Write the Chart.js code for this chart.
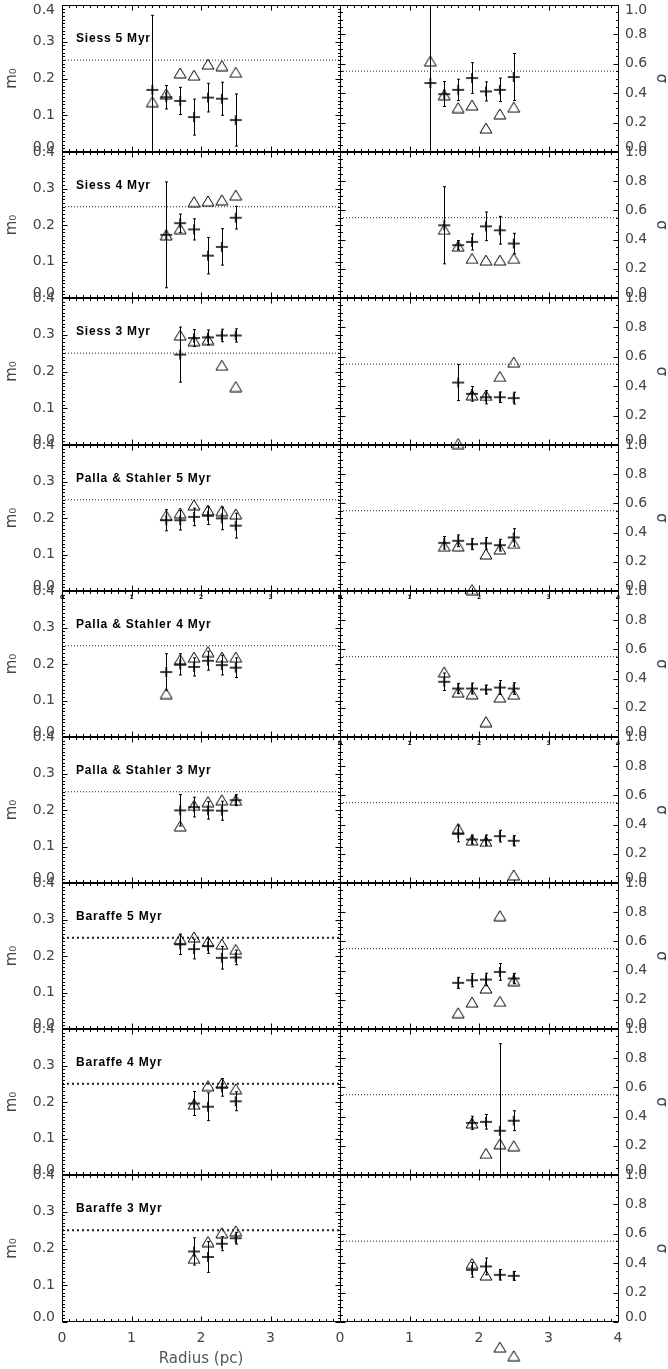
<!DOCTYPE html>
<html lang="en">
<head>
<meta charset="UTF-8">
<title>m0 and sigma versus radius</title>
<script src="https://cdn.jsdelivr.net/npm/chart.js"></script>
<style>
  body { margin: 0; background: #fff; }
  #plots { position: relative; width: 668px; height: 1369px; overflow: hidden; }
  #plots canvas { position: absolute; }
</style>
</head>
<body>
<div id="plots"></div>
<script>
// one row per model grid
const rowTitles = ['Siess 5 Myr', 'Siess 4 Myr', 'Siess 3 Myr',
  'Palla & Stahler 5 Myr', 'Palla & Stahler 4 Myr', 'Palla & Stahler 3 Myr',
  'Baraffe 5 Myr', 'Baraffe 4 Myr', 'Baraffe 3 Myr'];

const radiusTicks = [0, 1, 2, 3, 4];
const m0Ref = 0.25;
const sigmaRef = 0.55;

const radius = [
  [1.3, 1.5, 1.7, 1.9, 2.1, 2.3, 2.5],
  [1.5, 1.7, 1.9, 2.1, 2.3, 2.5],
  [1.7, 1.9, 2.1, 2.3, 2.5],
  [1.5, 1.7, 1.9, 2.1, 2.3, 2.5],
  [1.5, 1.7, 1.9, 2.1, 2.3, 2.5],
  [1.7, 1.9, 2.1, 2.3, 2.5],
  [1.7, 1.9, 2.1, 2.3, 2.5],
  [1.9, 2.1, 2.3, 2.5],
  [1.9, 2.1, 2.3, 2.5]
];

// fitted characteristic mass (crosses) and its error
const m0 = [
  [0.169, 0.149, 0.139, 0.095, 0.148, 0.145, 0.087],
  [0.173, 0.205, 0.188, 0.116, 0.140, 0.220],
  [0.246, 0.291, 0.293, 0.298, 0.298],
  [0.194, 0.194, 0.203, 0.206, 0.199, 0.179],
  [0.178, 0.199, 0.192, 0.209, 0.197, 0.190],
  [0.199, 0.208, 0.199, 0.198, 0.227],
  [0.232, 0.219, 0.227, 0.195, 0.196],
  [0.196, 0.187, 0.240, 0.202],
  [0.192, 0.177, 0.213, 0.228]
];
const m0Err = [
  [0.203, 0.032, 0.037, 0.049, 0.039, 0.045, 0.071],
  [0.145, 0.025, 0.029, 0.050, 0.050, 0.031],
  [0.075, 0.023, 0.020, 0.017, 0.018],
  [0.029, 0.027, 0.024, 0.024, 0.031, 0.034],
  [0.050, 0.029, 0.025, 0.026, 0.027, 0.027],
  [0.043, 0.027, 0.024, 0.026, 0.015],
  [0.028, 0.027, 0.020, 0.031, 0.020],
  [0.033, 0.038, 0.024, 0.026],
  [0.037, 0.042, 0.019, 0.016]
];
// second estimate (triangles)
const m0Tri = [
  [0.137, 0.158, 0.215, 0.209, 0.239, 0.235, 0.217],
  [0.173, 0.190, 0.264, 0.266, 0.269, 0.282],
  [0.299, 0.284, 0.287, 0.217, 0.159],
  [0.207, 0.214, 0.236, 0.222, 0.220, 0.211],
  [0.119, 0.212, 0.219, 0.234, 0.219, 0.219],
  [0.156, 0.213, 0.223, 0.228, 0.227],
  [0.247, 0.252, 0.240, 0.233, 0.218],
  [0.194, 0.245, 0.252, 0.236],
  [0.173, 0.219, 0.243, 0.248]
];

// width sigma (crosses) and its error
const sigma = [
  [0.469, 0.394, 0.423, 0.503, 0.412, 0.423, 0.510],
  [0.498, 0.362, 0.384, 0.491, 0.464, 0.373],
  [0.425, 0.348, 0.325, 0.325, 0.319],
  [0.330, 0.344, 0.321, 0.326, 0.314, 0.367],
  [0.378, 0.332, 0.332, 0.325, 0.339, 0.332],
  [0.339, 0.298, 0.294, 0.321, 0.289],
  [0.316, 0.334, 0.339, 0.391, 0.346],
  [0.357, 0.364, 0.303, 0.372],
  [0.355, 0.378, 0.321, 0.314]
];
const sigmaErr = [
  [0.600, 0.085, 0.072, 0.105, 0.065, 0.080, 0.160],
  [0.264, 0.032, 0.055, 0.098, 0.095, 0.070],
  [0.123, 0.050, 0.045, 0.036, 0.040],
  [0.043, 0.040, 0.038, 0.040, 0.040, 0.060],
  [0.060, 0.035, 0.038, 0.030, 0.048, 0.040],
  [0.057, 0.030, 0.035, 0.040, 0.035],
  [0.038, 0.045, 0.043, 0.057, 0.035],
  [0.045, 0.050, 0.596, 0.068],
  [0.050, 0.057, 0.036, 0.030]
];
const sigmaTriR = [
  [1.3, 1.5, 1.7, 1.9, 2.1, 2.3, 2.5],
  [1.5, 1.7, 1.9, 2.1, 2.3, 2.5],
  [1.7, 1.9, 2.1, 2.3, 2.5],
  [1.5, 1.7, 1.9, 2.1, 2.3, 2.5],
  [1.5, 1.7, 1.9, 2.1, 2.3, 2.5],
  [1.7, 1.9, 2.1, 2.5],
  [1.7, 1.9, 2.1, 2.3, 2.3, 2.5],
  [1.9, 2.1, 2.3, 2.5],
  [1.9, 2.1, 2.3, 2.5]
];
const sigmaTri = [
  [0.619, 0.389, 0.302, 0.319, 0.162, 0.259, 0.305],
  [0.470, 0.355, 0.271, 0.259, 0.259, 0.271],
  [0.010, 0.341, 0.337, 0.466, 0.564],
  [0.307, 0.309, 0.010, 0.253, 0.287, 0.326],
  [0.446, 0.307, 0.296, 0.105, 0.273, 0.293],
  [0.373, 0.294, 0.285, 0.055],
  [0.111, 0.184, 0.280, 0.776, 0.189, 0.332],
  [0.357, 0.148, 0.214, 0.200],
  [0.398, 0.319, -0.171, -0.230]
];

// page layout of the panel grid
const rowTop = [5, 152, 298, 445, 591, 737, 883, 1029, 1175];
const rowBottom = [152, 298, 445, 591, 737, 883, 1029, 1175, 1322];
const PAD = 24;
const SIDE = 20;
const AXIS_H = 47;
const tinyLeft = [4];
const tinyRight = [4, 5];

Chart.defaults.font.family = '"DejaVu Sans", sans-serif';
Chart.defaults.color = '#444';

function glyph(w, h, lw, path) {
  const c = document.createElement('canvas');
  c.width = w;
  c.height = h;
  const g = c.getContext('2d');
  g.strokeStyle = '#000';
  g.lineWidth = lw;
  g.beginPath();
  path(g);
  g.stroke();
  return c;
}
const triangle = glyph(14, 12, 1, g => { g.moveTo(1, 11); g.lineTo(7, 1); g.lineTo(13, 11); g.closePath(); });
const plus = glyph(14, 12, 1.6, g => { g.moveTo(1, 6); g.lineTo(13, 6); g.moveTo(7, 1); g.lineTo(7, 11); });

// vertical error bars with small caps, clipped to the panel
const errorBars = {
  id: 'errorBars',
  afterDatasetsDraw(chart) {
    const {ctx, chartArea: a} = chart;
    const y = chart.scales.y;
    ctx.save();
    ctx.beginPath();
    ctx.rect(a.left, a.top, a.right - a.left, a.bottom - a.top);
    ctx.clip();
    ctx.strokeStyle = '#000';
    ctx.lineWidth = 1;
    chart.data.datasets.forEach((ds, i) => {
      if (!ds.errors) return;
      chart.getDatasetMeta(i).data.forEach((pt, j) => {
        const v = ds.data[j].y, e = ds.errors[j];
        const x = Math.round(pt.x) + 0.5;
        const y1 = y.getPixelForValue(v + e);
        const y2 = y.getPixelForValue(v - e);
        ctx.beginPath();
        ctx.moveTo(x, y1); ctx.lineTo(x, y2);
        ctx.moveTo(x - 1.5, y1); ctx.lineTo(x + 1.5, y1);
        ctx.moveTo(x - 1.5, y2); ctx.lineTo(x + 1.5, y2);
        ctx.stroke();
      });
    });
    ctx.restore();
  }
};

// box with inward ticks on all four sides, panel label
const frame = {
  id: 'frame',
  afterDraw(chart) {
    const {ctx, chartArea: a, scales: {x, y}} = chart;
    const o = chart.options.plugins.frame;
    const L = Math.round(a.left) + 0.5, R = Math.round(a.right) + 0.5;
    const T = Math.round(a.top) + 0.5, B = Math.round(a.bottom) - 0.5;
    ctx.save();
    ctx.strokeStyle = '#000';
    ctx.lineWidth = 1;
    ctx.beginPath();
    ctx.moveTo(L, T); ctx.lineTo(R, T);
    ctx.moveTo(L, B); ctx.lineTo(R, B);
    ctx.moveTo(L, T); ctx.lineTo(L, B);
    ctx.moveTo(R, T); ctx.lineTo(R, B);
    const nx = Math.round((x.max - x.min) / 0.1);
    for (let i = 0; i <= nx; i++) {
      const px = Math.round(x.getPixelForValue(x.min + i * 0.1)) + 0.5;
      const len = i % 10 === 0 ? 5 : 2.5;
      ctx.moveTo(px, B); ctx.lineTo(px, B - len);
      ctx.moveTo(px, T); ctx.lineTo(px, T + len);
    }
    const ny = Math.round((y.max - y.min) / o.minor);
    for (let i = 0; i <= ny; i++) {
      const py = Math.round(y.getPixelForValue(y.min + i * o.minor)) + 0.5;
      const len = i % o.every === 0 ? 5 : 2.5;
      ctx.moveTo(L, py); ctx.lineTo(L + len, py);
      ctx.moveTo(R, py); ctx.lineTo(R - len, py);
    }
    ctx.stroke();

    ctx.fillStyle = '#000';
    if (o.label) {
      ctx.font = 'bold 12px "Liberation Sans", sans-serif';
      ctx.letterSpacing = '0.8px';
      ctx.textBaseline = 'middle';
      ctx.textAlign = 'left';
      ctx.fillText(o.label, a.left + 14, a.top + 34);
      ctx.letterSpacing = '0px';
    }
    if (o.tiny) {
      ctx.font = 'bold 6px "DejaVu Sans", sans-serif';
      ctx.textAlign = 'center';
      ctx.textBaseline = 'top';
      radiusTicks.forEach(v => ctx.fillText(String(v), x.getPixelForValue(v), T + 3));
    }
    ctx.restore();
  }
};

const plots = document.getElementById('plots');

function makePanel(row, side) {
  const isLeft = side === 'left';
  const last = row === rowTitles.length - 1;
  // left panels: plot box 62..340, right panels: 340..618 (page px)
  const width = isLeft ? 341 + SIDE : 328 + SIDE;
  const height = PAD + (rowBottom[row] - rowTop[row]) + (last ? AXIS_H : PAD);
  const canvas = document.createElement('canvas');
  canvas.width = width;
  canvas.height = height;
  canvas.style.left = (isLeft ? 0 : 340 - SIDE) + 'px';
  canvas.style.top = (rowTop[row] - PAD) + 'px';
  plots.appendChild(canvas);

  const vals = isLeft ? m0[row] : sigma[row];
  const errs = isLeft ? m0Err[row] : sigmaErr[row];
  const triX = isLeft ? radius[row] : sigmaTriR[row];
  const triY = isLeft ? m0Tri[row] : sigmaTri[row];
  const refY = isLeft ? m0Ref : sigmaRef;
  const yMax = isLeft ? 0.4 : 1.0;
  const xMin = radiusTicks[0], xMax = radiusTicks[radiusTicks.length - 1];
  const bold = isLeft && rowTitles[row].startsWith('Baraffe');

  const xScale = {
    type: 'linear', min: xMin, max: xMax,
    display: last,
    grid: {display: false, drawTicks: false},
    border: {display: false},
    ticks: {
      stepSize: 1, padding: 8, color: '#444', font: {size: 14},
      callback: v => (isLeft && v === xMax) ? '' : String(v)
    },
    title: {
      display: last && isLeft, text: 'Radius (pc)', color: '#555',
      font: {size: 15}, padding: {top: 0, bottom: 1}
    }
  };
  if (last) xScale.afterFit = s => { s.height = AXIS_H; };

  new Chart(canvas, {
    type: 'scatter',
    data: {
      datasets: [
        {
          data: [{x: xMin, y: refY}, {x: xMax, y: refY}],
          showLine: true, pointRadius: 0,
          borderColor: '#222', borderWidth: bold ? 2 : 1,
          borderDash: bold ? [2, 3] : [1, 2]
        },
        {
          data: triX.map((r, i) => ({x: r, y: triY[i]})),
          pointStyle: triangle, pointRadius: 40, clip: false
        },
        {
          data: radius[row].map((r, i) => ({x: r, y: vals[i]})),
          pointStyle: plus, pointRadius: 6, errors: errs
        }
      ]
    },
    options: {
      responsive: false,
      animation: false,
      events: [],
      layout: {
        autoPadding: false,
        padding: {left: isLeft ? 0 : SIDE, right: isLeft ? 1 + SIDE : 0, top: PAD, bottom: last ? 0 : PAD}
      },
      plugins: {
        legend: {display: false},
        tooltip: {enabled: false},
        frame: {
          minor: isLeft ? 0.01 : 0.05,
          every: isLeft ? 10 : 4,
          label: isLeft ? rowTitles[row] : '',
          tiny: (isLeft ? tinyLeft : tinyRight).includes(row)
        }
      },
      scales: {
        x: xScale,
        y: {
          type: 'linear', position: isLeft ? 'left' : 'right',
          min: 0, max: yMax,
          grid: {display: false, drawTicks: false},
          border: {display: false},
          ticks: {
            stepSize: isLeft ? 0.1 : 0.2, autoSkip: false, padding: 7,
            color: '#444', font: {size: 14, lineHeight: 0.7},
            callback: v => {
              const s = v.toFixed(1);
              if (v < 1e-9) return [s, ''];
              if (row === 0 && v > yMax - 1e-9) return ['', s];
              return s;
            }
          },
          title: {
            display: true, text: isLeft ? 'm₀' : 'σ', color: '#444',
            font: {size: 15, lineHeight: isLeft ? 1.2 : 1},
            padding: isLeft ? {top: 3, bottom: 0} : 0
          },
          afterFit: s => { s.width = isLeft ? 62 : 50; }
        }
      }
    },
    plugins: [errorBars, frame]
  });
}

rowTitles.forEach((t, row) => {
  makePanel(row, 'left');
  makePanel(row, 'right');
});
</script>
</body>
</html>
